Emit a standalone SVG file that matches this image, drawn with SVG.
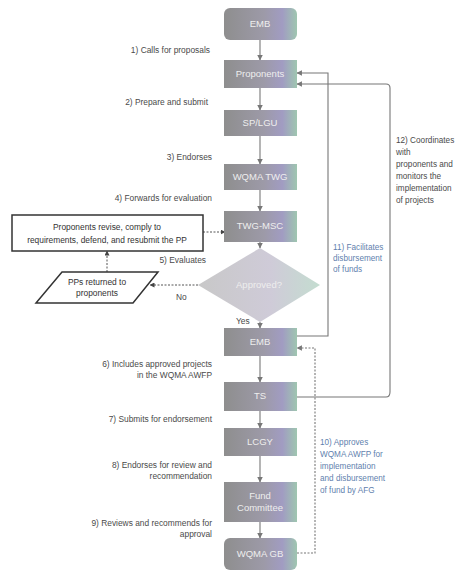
<svg xmlns="http://www.w3.org/2000/svg" width="467" height="573" viewBox="0 0 467 573">
<defs>
<linearGradient id="ng" x1="0" y1="0" x2="1" y2="0">
<stop offset="0" stop-color="#8e8e8e"/>
<stop offset="0.55" stop-color="#9d9aa8"/>
<stop offset="0.8" stop-color="#a19cc2"/>
<stop offset="1" stop-color="#9fc6b0"/>
</linearGradient>
<linearGradient id="dg" x1="0" y1="0" x2="1" y2="0">
<stop offset="0" stop-color="#c8c8c8"/>
<stop offset="0.6" stop-color="#cfcbd8"/>
<stop offset="1" stop-color="#c4ddd0"/>
</linearGradient>
<marker id="ah" viewBox="0 0 10 10" refX="9" refY="5" markerWidth="5" markerHeight="5" orient="auto">
<path d="M0,0 L10,5 L0,10 z" fill="#777"/>
</marker>
<marker id="ahk" viewBox="0 0 10 10" refX="9" refY="5" markerWidth="5" markerHeight="5" orient="auto">
<path d="M0,0 L10,5 L0,10 z" fill="#444"/>
</marker>
<style>
.n{fill:url(#ng)}
.nt{font-family:"Liberation Sans",Arial,sans-serif;font-size:9.5px;fill:#eeeeee;text-anchor:middle}
.lb{font-family:"Liberation Sans",Arial,sans-serif;font-size:8.4px;fill:#4a4a4a}
.rs{font-size:8.2px}
.r{text-anchor:end}
.bl{fill:#5f7fae}
.cs{fill:none;stroke:#777;stroke-width:1.1;marker-end:url(#ah)}
.ck{fill:none;stroke:#555;stroke-width:1;stroke-dasharray:2 1.5;marker-end:url(#ahk)}
.bx{fill:#ffffff;stroke:#333;stroke-width:1.5}
.bt{font-family:"Liberation Sans",Arial,sans-serif;font-size:8.4px;fill:#333;text-anchor:middle}
</style>
</defs>
<rect width="467" height="573" fill="#ffffff"/>

<g id="connectors">
<path class="cs" d="M260,40 V60"/>
<path class="cs" d="M260,88 V110"/>
<path class="cs" d="M260,136 V164"/>
<path class="cs" d="M260,190 V211"/>
<path class="cs" d="M260,242 V248"/>
<path class="cs" d="M260,322 V328"/>
<path class="cs" d="M260,356 V382"/>
<path class="cs" d="M260,411 V428"/>
<path class="cs" d="M260,456 V482"/>
<path class="cs" d="M260,522 V538"/>
<path class="ck" d="M203,232 H225"/>
<path class="ck" d="M198,285 H150"/>
<path class="ck" d="M107,272 V251"/>
<path class="cs" d="M297,336 H328 V73 H297" stroke="#8a8a8a"/>
<path class="cs" d="M297,397 H386 Q390,397 390,392 V88 Q390,84 386,84 H297" stroke="#9aab9a"/>
<path class="cs" d="M297,553 H315 V348 H297" stroke-dasharray="2 1.5"/>
</g>

<g id="n1"><rect class="n" x="224" y="8" width="73" height="32" rx="6"/><text class="nt" x="260" y="27">EMB</text></g>
<g id="n2"><rect class="n" x="224" y="60" width="73" height="28"/><text class="nt" x="260" y="77">Proponents</text></g>
<g id="n3"><rect class="n" x="224" y="110" width="73" height="26"/><text class="nt" x="260" y="126">SP/LGU</text></g>
<g id="n4"><rect class="n" x="224" y="164" width="73" height="26"/><text class="nt" x="260" y="180">WQMA TWG</text></g>
<g id="n5"><rect class="n" x="224" y="211" width="73" height="31"/><text class="nt" x="260" y="229">TWG-MSC</text></g>
<g id="d1"><path d="M198,285 L260,248 L320,285 L260,322 Z" fill="url(#dg)"/><text class="nt" x="259" y="288">Approved?</text></g>
<g id="n6"><rect class="n" x="224" y="328" width="73" height="28"/><text class="nt" x="260" y="345">EMB</text></g>
<g id="n7"><rect class="n" x="224" y="382" width="73" height="29"/><text class="nt" x="260" y="399">TS</text></g>
<g id="n8"><rect class="n" x="224" y="428" width="73" height="28"/><text class="nt" x="260" y="445">LCGY</text></g>
<g id="n9"><rect class="n" x="224" y="482" width="73" height="40"/><text class="nt" x="260" y="499">Fund</text><text class="nt" x="260" y="511">Committee</text></g>
<g id="n10"><rect class="n" x="224" y="538" width="73" height="32" rx="6"/><text class="nt" x="260" y="557">WQMA GB</text></g>

<g id="box"><rect class="bx" x="12" y="215" width="191" height="36"/><text class="bt" x="107" y="230">Proponents revise, comply to</text><text class="bt" x="107" y="243">requirements, defend, and resubmit the PP</text></g>
<g id="para"><path class="bx" d="M62,272 H158 L133,303 H36 Z"/><text class="bt" x="97" y="285">PPs returned to</text><text class="bt" x="97" y="296">proponents</text></g>

<g id="labels">
<text class="lb r" x="210" y="53">1) Calls for proposals</text>
<text class="lb r" x="208" y="105">2) Prepare and submit</text>
<text class="lb r" x="212" y="160">3) Endorses</text>
<text class="lb r" x="212" y="201">4) Forwards for evaluation</text>
<text class="lb r" x="206" y="263">5) Evaluates</text>
<text class="lb" x="176" y="300">No</text>
<text class="lb" x="236" y="324">Yes</text>
<text class="lb r" x="212" y="367">6) Includes approved projects</text>
<text class="lb r" x="212" y="378">in the WQMA AWFP</text>
<text class="lb r" x="212" y="422">7) Submits for endorsement</text>
<text class="lb r" x="212" y="468">8) Endorses for review and</text>
<text class="lb r" x="212" y="479">recommendation</text>
<text class="lb r" x="212" y="526">9) Reviews and recommends for</text>
<text class="lb r" x="212" y="537">approval</text>
<text class="lb rs" x="396" y="143">12) Coordinates</text>
<text class="lb rs" x="396" y="155">with</text>
<text class="lb rs" x="396" y="167">proponents and</text>
<text class="lb rs" x="396" y="179">monitors the</text>
<text class="lb rs" x="396" y="191">implementation</text>
<text class="lb rs" x="396" y="203">of projects</text>
<text class="lb rs bl" x="333" y="250">11) Facilitates</text>
<text class="lb rs bl" x="333" y="261">disbursement</text>
<text class="lb rs bl" x="333" y="272">of funds</text>
<text class="lb rs bl" x="320" y="445">10) Approves</text>
<text class="lb rs bl" x="320" y="457">WQMA AWFP for</text>
<text class="lb rs bl" x="320" y="469">implementation</text>
<text class="lb rs bl" x="320" y="481">and disbursement</text>
<text class="lb rs bl" x="320" y="493">of fund by AFG</text>
</g>
</svg>
